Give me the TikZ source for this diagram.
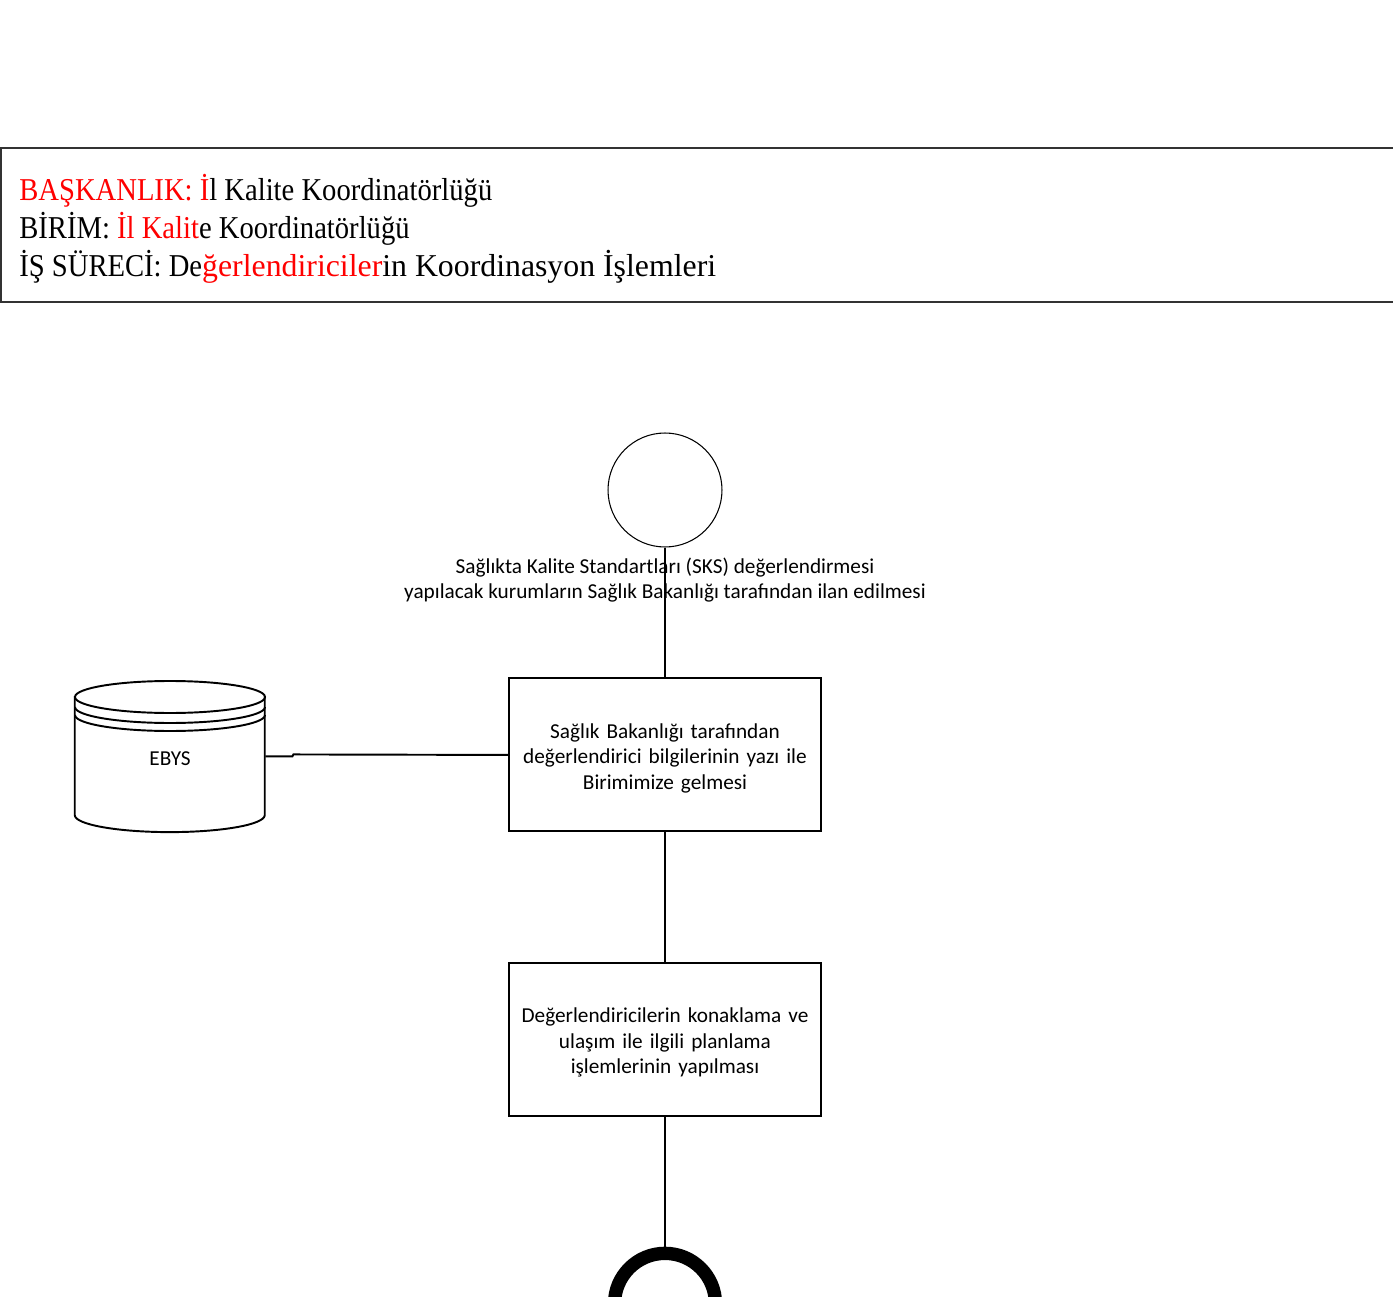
\documentclass[tikz,border=0pt]{standalone}
\usepackage{fontspec}
\setmainfont{Carlito}
\newfontfamily\headfont{Liberation Serif}
\newfontfamily\headnarrow[FakeStretch=0.9]{Liberation Serif}
\usetikzlibrary{shapes.geometric}
\definecolor{framegray}{HTML}{333333}
\tikzstyle{header} = [rectangle, 
minimum width=28.2cm, 
minimum height=3.08cm, 
draw=framegray, line width=1.3pt]
\tikzstyle{headtext} = [align=left, font=\headfont\fontsize{18.1pt}{21.6pt}\selectfont, inner sep=0pt]
\tikzstyle{startevent} = [circle, 
minimum size=2.28cm, 
draw=black, line width=0.6pt]
\tikzstyle{endevent} = [circle, 
minimum size=2.02cm, 
draw=black, line width=7.6pt]
\tikzstyle{process} = [rectangle, 
minimum width=6.16cm, 
minimum height=3.06cm, 
text centered, 
text width=6cm, 
draw=black, line width=1.1pt, 
font=\fontsize{12.1pt}{14.5pt}\selectfont, 
execute at begin node=\rule{0pt}{12pt}]
\tikzstyle{store} = [rectangle, 
minimum width=3.8cm, 
minimum height=3.04cm, inner sep=0pt, 
font=\fontsize{12.1pt}{14.5pt}\selectfont, 
execute at begin node=\rule{0pt}{10.5pt}]
\tikzstyle{label} = [align=center, inner sep=0pt, font=\fontsize{12.1pt}{14.5pt}\selectfont]
\tikzstyle{line} = [line width=1.1pt]

\begin{document}
\begin{tikzpicture}[x=0.02cm, y=-0.02cm, node distance=5.69cm]
	\useasboundingbox (0,0) rectangle (1393,1297);
	\node (head) [header, anchor=north west] at (0,147) {};
	\node (head_text) [headtext, anchor=west] at (19,229) {{\headnarrow\textcolor{red}{BAŞKANLIK: İ}l Kalite Koordinatörlüğü}\\{\headnarrow BİRİM: \textcolor{red}{İl Kalit}e Koordinatörlüğü}\\{\headnarrow İŞ SÜRECİ: De}\textcolor{red}{ğerlendiriciler}in Koordinasyon İşlemleri};

	\node (start) [startevent] at (665,490) {};
	\node (start_label) [label, below of=start, yshift=3.89cm] {Sağlıkta Kalite Standartları (SKS) değerlendirmesi\\yapılacak kurumların Sağlık Bakanlığı tarafından ilan edilmesi};
	\node (box_letter) [process, below of=start, yshift=0.39cm] {Sağlık Bakanlığı tarafından\\değerlendirici bilgilerinin yazı ile\\Birimimize gelmesi};
	\node (box_plan) [process, below of=box_letter] {Değerlendiricilerin konaklama ve\\ulaşım ile ilgili planlama\\işlemlerinin yapılması};
	\node (finish) [endevent, below of=box_plan, yshift=0.40cm] {};
	\node (ebys) [store, left of=box_letter, xshift=-4.21cm, yshift=-0.03cm] {EBYS};

	% cylinder of the store
	\draw [line] (ebys.north west) ++(0,16) -- ++(0,119) arc [start angle=180, end angle=360, x radius=95, y radius=-17] -- ++(0,-119);
	\draw [line] (170,697) ellipse [x radius=95, y radius=16];
	\foreach \y in {707,715}
		\draw [line] (75,\y) arc [start angle=180, end angle=360, x radius=95, y radius=-16];

	\draw [line] (start) -- (box_letter);
	\draw [line] (box_letter) -- (box_plan);
	\draw [line] (box_plan) -- (finish);
	\draw [line] (ebys.east) -- ++(27,0) -- ++(1,-2) -- (box_letter.west);
\end{tikzpicture}
\end{document}
